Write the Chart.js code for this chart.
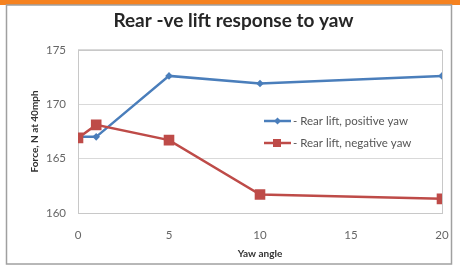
<!DOCTYPE html>
<html>
<head>
<meta charset="utf-8">
<script src="https://cdn.jsdelivr.net/npm/chart.js@4"></script>
<style>
  html, body { margin: 0; padding: 0; background: #fff; }
  #wrap { width: 460px; height: 269px; position: relative; }
</style>
</head>
<body>
<div id="wrap"><canvas id="chartYaw" width="460" height="269"></canvas></div>
<script>
// data
const yawAngles = [0, 1, 5, 10, 20];
const positiveYaw = [167.0, 167.0, 172.6, 171.9, 172.6];
const negativeYaw = [166.9, 168.1, 166.7, 161.7, 161.3];
const yTicks = [160, 165, 170, 175];
const xTicks = [0, 5, 10, 15, 20];

const blue = '#4A7EBB';
const red = '#BE4B48';

function toPoints(values) {
  return yawAngles.map((x, i) => ({ x: x, y: values[i] }));
}

// orange band, outer frame and plot-area box
const framePlugin = {
  id: 'frame',
  beforeDraw(chart) {
    const c = chart.ctx;
    c.save();
    c.fillStyle = '#fff';
    c.fillRect(0, 0, chart.width, chart.height);
    c.fillStyle = '#F58220';
    c.fillRect(0, 0, chart.width, 5);
    c.strokeStyle = '#a0a0a0';
    c.lineWidth = 1.5;
    c.strokeRect(6.5, 5, 445, 259);
    c.restore();
  },
  beforeDatasetsDraw(chart) {
    const a = chart.chartArea;
    const c = chart.ctx;
    c.save();
    c.strokeStyle = '#c8c8c8';
    c.lineWidth = 1;
    c.strokeRect(Math.round(a.left) + 0.5, Math.round(a.top) + 0.5, Math.round(a.right - a.left), Math.round(a.bottom - a.top));
    c.restore();
  }
};

// legend drawn inside the plot, on the right
const insideLegend = {
  id: 'insideLegend',
  afterDraw(chart) {
    const c = chart.ctx;
    const rows = [0, 1];
    c.save();
    c.font = '11.5px Lato';
    c.textBaseline = 'middle';
    rows.forEach((i, k) => {
      const ds = chart.data.datasets.find(d => d.legendIndex === i);
      const y = 121 + k * 22;
      c.strokeStyle = ds.borderColor;
      c.lineWidth = 2.5;
      c.beginPath();
      c.moveTo(264, y);
      c.lineTo(291, y);
      c.stroke();
      c.fillStyle = ds.backgroundColor;
      if (ds.pointStyle === 'rect') {
        c.fillRect(273, y - 4, 8, 8);
      } else {
        c.beginPath();
        c.moveTo(277.5, y - 3.5);
        c.lineTo(281, y);
        c.lineTo(277.5, y + 3.5);
        c.lineTo(274, y);
        c.closePath();
        c.fill();
      }
      c.fillStyle = '#555';
      c.fillText('- ' + ds.label, 293, y);
    });
    c.restore();
  }
};

const ctx = document.getElementById('chartYaw').getContext('2d');
new Chart(ctx, {
  type: 'line',
  data: {
    datasets: [
      {
        label: 'Rear lift, negative yaw',
        legendIndex: 1,
        order: 0,
        data: toPoints(negativeYaw),
        borderColor: red,
        backgroundColor: red,
        borderWidth: 2.5,
        pointStyle: 'rect',
        pointRadius: 7.5,
        pointBorderWidth: 0,
        tension: 0
      },
      {
        label: 'Rear lift, positive yaw',
        legendIndex: 0,
        order: 1,
        data: toPoints(positiveYaw),
        borderColor: blue,
        backgroundColor: blue,
        borderWidth: 2.5,
        pointStyle: 'rectRot',
        pointRadius: 3.8,
        pointBorderWidth: 0,
        tension: 0
      }
    ]
  },
  options: {
    responsive: false,
    animation: false,
    layout: { padding: { left: 25, right: 18, top: 6, bottom: 5 } },
    plugins: {
      legend: { display: false },
      tooltip: { enabled: false },
      title: {
        display: true,
        text: 'Rear -ve lift response to yaw',
        color: '#262626',
        font: { family: 'Lato', size: 19, weight: 'bold' },
        padding: { top: 3, bottom: 18 }
      }
    },
    scales: {
      x: {
        type: 'linear',
        min: 0,
        max: 20,
        afterBuildTicks(scale) { scale.ticks = xTicks.map(v => ({ value: v })); },
        afterFit(scale) {
          scale.height = 51;
          scale.paddingLeft = 0;
          scale.paddingRight = 0;
        },
        grid: { display: false, drawTicks: false },
        border: { display: false },
        ticks: { color: '#666', font: { family: 'Lato', size: 11.5 }, padding: 15 },
        title: {
          display: true,
          text: 'Yaw angle',
          color: '#333',
          font: { family: 'Lato', size: 10, weight: 'bold' },
          padding: { top: 2 }
        }
      },
      y: {
        min: 160,
        max: 175,
        afterBuildTicks(scale) { scale.ticks = yTicks.map(v => ({ value: v })); },
        afterFit(scale) { scale.width = 53; },
        grid: { color: '#d9d9d9', drawTicks: false },
        border: { display: false },
        ticks: { color: '#666', font: { family: 'Lato', size: 11.5 }, padding: 12 },
        title: {
          display: true,
          text: 'Force, N at 40mph',
          color: '#333',
          font: { family: 'Lato', size: 10, weight: 'bold' },
          padding: { bottom: 2 }
        }
      }
    }
  },
  plugins: [framePlugin, insideLegend]
});
</script>
</body>
</html>
